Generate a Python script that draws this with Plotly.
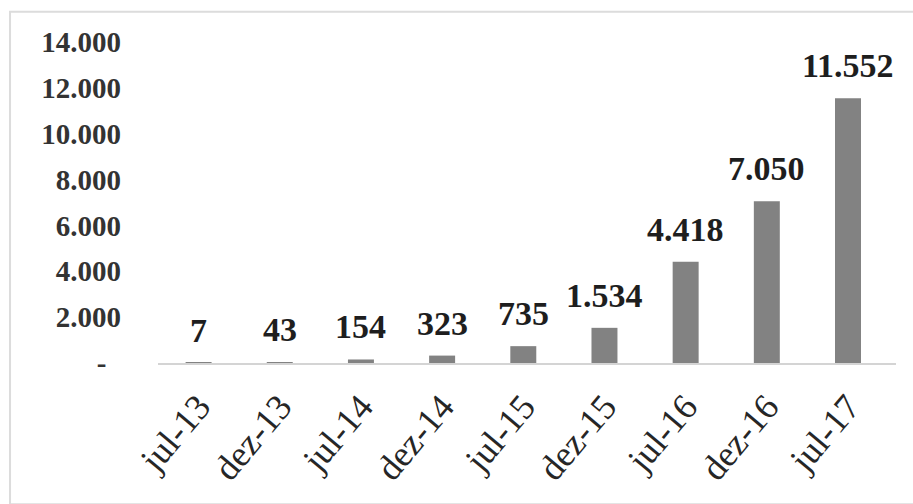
import plotly.graph_objects as go

# Semiannual counts
periods = ["jul-13", "dez-13", "jul-14", "dez-14", "jul-15",
           "dez-15", "jul-16", "dez-16", "jul-17"]
counts = [7, 43, 154, 323, 735, 1534, 4418, 7050, 11552]

# Y-axis ticks (accounting-style "-" for zero)
y_tick_vals = [0, 2000, 4000, 6000, 8000, 10000, 12000, 14000]
y_tick_text = ["-\u2007", "2.000", "4.000", "6.000", "8.000",
               "10.000", "12.000", "14.000"]

SERIF = "Liberation Serif, Times New Roman, serif"


def fmt_pt(v):
    return f"{v:,}".replace(",", ".")


fig = go.Figure()
fig.add_trace(go.Bar(
    x=periods,
    y=counts,
    marker=dict(color="#828282", line=dict(width=0)),
    hoverinfo="skip",
))

# Value labels above each bar
for p, v in zip(periods, counts):
    fig.add_annotation(
        x=p, y=v, text=f"<b>{fmt_pt(v)}</b>",
        showarrow=False, yanchor="bottom", yshift=12,
        font=dict(family=SERIF, size=34, color="#1e1e1e"),
    )

# Outer light frame around the chart
fig.add_shape(
    type="rect", xref="paper", yref="paper",
    x0=-0.2005, x1=1.05, y0=-0.44, y1=1.094,
    line=dict(color="#dcdcdc", width=2),
    fillcolor="rgba(0,0,0,0)", layer="below",
)

fig.update_layout(
    width=913, height=504,
    margin=dict(l=158, r=17, t=42, b=141, autoexpand=False),
    paper_bgcolor="white", plot_bgcolor="white",
    bargap=0.68,
    showlegend=False,
    xaxis=dict(
        type="category",
        tickangle=-50,
        tickfont=dict(family=SERIF, size=36, color="#262626"),
        showline=True, linecolor="#d4d4d4", linewidth=2,
        showgrid=False, ticks="",
        ticklabelstandoff=6,
    ),
    yaxis=dict(
        range=[0, 14000],
        tickvals=y_tick_vals, ticktext=y_tick_text,
        tickfont=dict(family=SERIF, size=29, color="#333333", weight="bold"),
        showgrid=False, zeroline=False, showline=False, ticks="",
        ticklabelstandoff=36,
    ),
)

fig.write_html("out.html")
